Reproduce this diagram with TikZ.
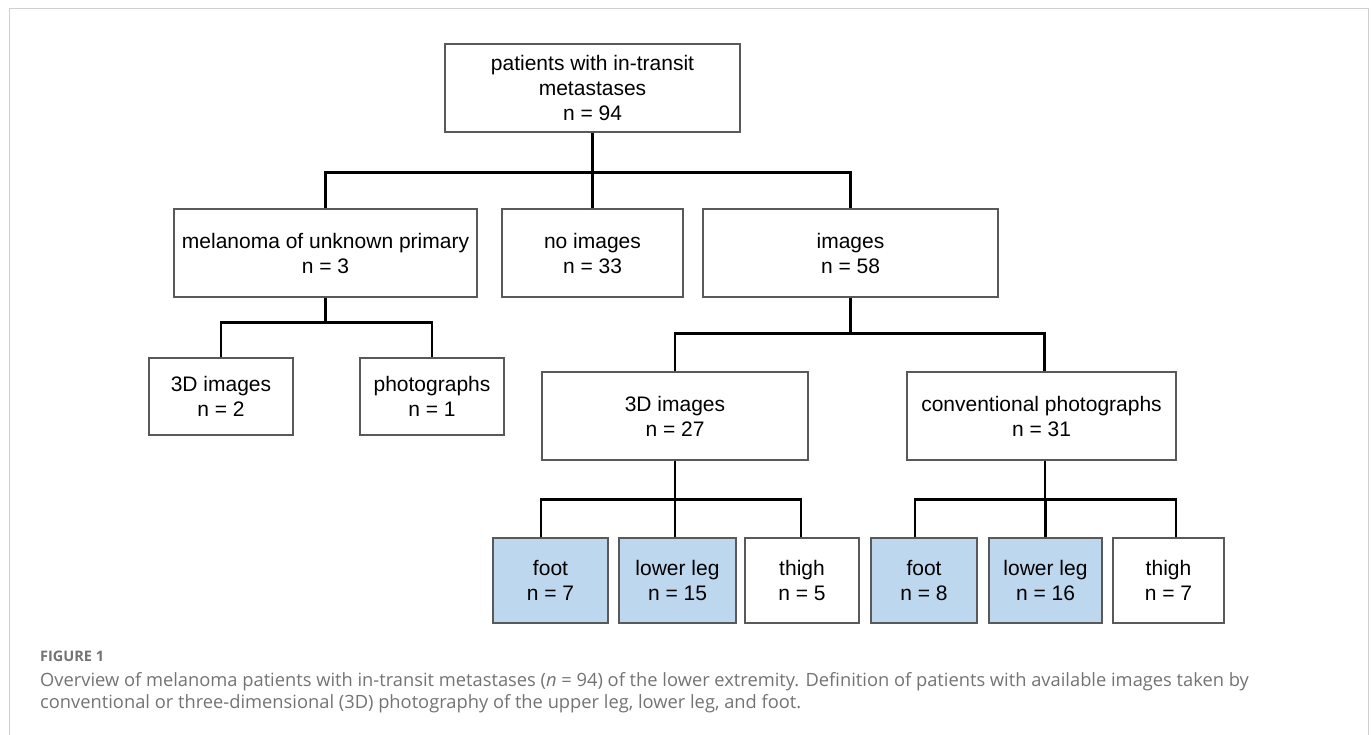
\documentclass[tikz,border=0pt]{standalone}
\usepackage{fontspec}
\setmainfont{Liberation Sans}
\newfontfamily\capfont{Open Sans}
\usetikzlibrary{calc}
\definecolor{legblue}{HTML}{BDD7EE}
\definecolor{boxgray}{HTML}{595959}
\definecolor{capgray}{HTML}{737373}
\definecolor{framegray}{HTML}{CFCFCF}

\begin{document}
\begin{tikzpicture}[x=1pt, y=-1pt, line join=miter,
	box/.style={draw=boxgray, line width=1.2pt, fill=white, align=center, inner sep=0pt, font=\fontsize{21}{25}\selectfont},
	leg/.style={box, fill=legblue},
	link/.style={draw=black, line width=2.4pt},
	captext/.style={anchor=base west, inner sep=0pt, text=capgray, font=\capfont\fontsize{18.3}{22}\selectfont}]
	\def \h{88} \def \hs{77} \def \hb{85}
	\useasboundingbox (0,0) rectangle (1372,735);
	\draw[framegray, line width=1pt] (9,735) -- (9,9) -- (1368,9) -- (1368,735);
	\node[box, minimum width=295, minimum height=\h] (top) at (592.5,88) {patients with in-transit\\metastases\\n = 94};
	\node[box, minimum width=303, minimum height=\h] (mup) at (325.5,253) {melanoma of unknown primary\\n = 3};
	\node[box, minimum width=181, minimum height=\h] (noimg) at (592.5,253) {no images\\n = 33};
	\node[box, minimum width=295, minimum height=\h] (img) at (850.5,253) {images\\n = 58};
	\node[box, minimum width=144, minimum height=\hs] (mup3d) at (221,396.5) {3D images\\n = 2};
	\node[box, minimum width=144, minimum height=\hs] (mupph) at (432,396.5) {photographs\\n = 1};
	\node[box, minimum width=266, minimum height=\h] (img3d) at (675,416) {3D images\\n = 27};
	\node[box, minimum width=269, minimum height=\h] (conv) at (1041.5,416) {conventional photographs\\n = 31};
	\node[leg, minimum width=115, minimum height=\hb] (foota) at (550.5,580.5) {foot\\n = 7};
	\node[leg, minimum width=117, minimum height=\hb] (lega) at (677.5,580.5) {lower leg\\n = 15};
	\node[box, minimum width=114, minimum height=\hb] (thigha) at (802,580.5) {thigh\\n = 5};
	\node[leg, minimum width=106, minimum height=\hb] (footb) at (924,580.5) {foot\\n = 8};
	\node[leg, minimum width=113, minimum height=\hb] (legb) at (1045.5,580.5) {lower leg\\n = 16};
	\node[box, minimum width=111, minimum height=\hb] (thighb) at (1168.5,580.5) {thigh\\n = 7};
	\coordinate (j1) at ($(top.south)+(0,40)$);
	\coordinate (j2) at ($(mup.south)+(0,25)$);
	\coordinate (j3) at ($(img.south)+(0,36)$);
	\coordinate (j4) at ($(img3d.south)+(0,39)$);
	\coordinate (j5) at ($(conv.south)+(3.5,39)$);
	\draw[link] (top.south) -- (j1);
	\draw[link] (mup.north) |- (j1) -| (img.north);
	\draw[link] (noimg.north) -- (j1);
	\draw[link] (mup.south) -- (j2);
	\draw[link] (mup3d.north) |- (j2) -| (mupph.north);
	\draw[link] (img.south) -- (j3);
	\draw[link] (img3d.north) |- (j3) -| ([xshift=3pt]conv.north);
	\draw[link] (img3d.south) -- (j4);
	\draw[link] ([xshift=-9.5pt]foota.north) |- (j4) -| ([xshift=-1pt]thigha.north);
	\draw[link] ([xshift=-2.5pt]lega.north) -- ([xshift=-2.5pt]lega.north |- j4);
	\draw[link] ($(conv.south)+(3.5,0)$) -- (j5);
	\draw[link] ([xshift=-9pt]footb.north) |- (j5) -| ([xshift=7.5pt]thighb.north);
	\draw[link] (legb.north) -- (legb.north |- j5);
	\node[captext, font=\capfont\bfseries\fontsize{14.5}{17}\selectfont] (fig) at (40,661) {FIGURE 1};
	\node[captext] (capa) at (40,686) {Overview of melanoma patients with in-transit metastases (\textit{n} = 94) of the lower extremity. Definition of patients with available images taken by};
	\node[captext] (capb) at (40,708) {conventional or three-dimensional (3D) photography of the upper leg, lower leg, and foot.};
\end{tikzpicture}
\end{document}
